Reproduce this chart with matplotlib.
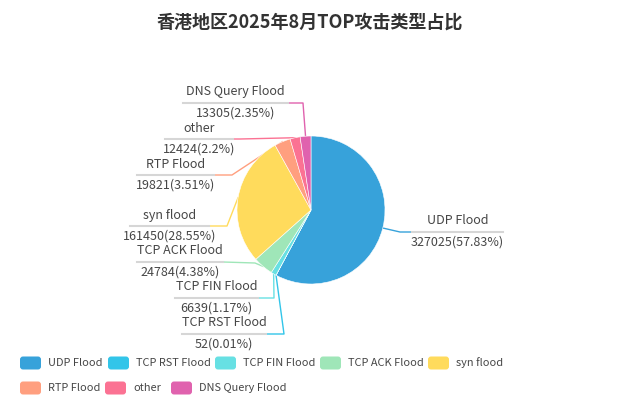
import matplotlib.pyplot as plt
from matplotlib.patches import FancyBboxPatch
import numpy as np

plt.rcParams['font.family'] = ['Noto Sans CJK SC', 'DejaVu Sans']

title = '香港地区2025年8月TOP攻击类型占比'
names = ['UDP Flood', 'TCP RST Flood', 'TCP FIN Flood', 'TCP ACK Flood',
         'syn flood', 'RTP Flood', 'other', 'DNS Query Flood']
values = [327025, 52, 6639, 24784, 161450, 19821, 12424, 13305]
colors = ['#37A2DA', '#32C5E9', '#67E0E3', '#9FE6B8',
          '#FFDB5C', '#ff9f7f', '#fb7293', '#E062AE']

W, H = 620, 401
cx, cy, R = 311, 210, 74

def Y(y):
    return H - y

# label layout in pixels: line x0, x1, line y, elbow (x, y)
label_pos = {
    'UDP Flood':       (412, 503, 232, (400, 232)),
    'TCP RST Flood':   (182, 266, 334, (284, 334)),
    'TCP FIN Flood':   (175, 258, 298, (274, 298)),
    'TCP ACK Flood':   (137, 223, 262, (255, 263)),
    'syn flood':       (130, 209, 226, (227, 226)),
    'RTP Flood':       (137, 214, 175, (232, 175)),
    'other':           (165, 233, 139, (240, 139)),
    'DNS Query Flood': (183, 288, 103, (303, 103)),
}

fig = plt.figure(figsize=(6.2, 4.01), dpi=100)
ax = fig.add_axes([0, 0, 1, 1])

wedges, _ = ax.pie(values, colors=colors, startangle=90, counterclock=False,
                   center=(cx, Y(cy)), radius=R,
                   wedgeprops=dict(linewidth=0.4, edgecolor='white', zorder=3))
ax.set_xlim(0, W)
ax.set_ylim(0, H)
ax.set_aspect('equal')
ax.axis('off')

total = sum(values)
txt = '#464646'
for w, name, v, c in zip(wedges, names, values, colors):
    mid = np.deg2rad((w.theta1 + w.theta2) / 2)
    ex = cx + R * np.cos(mid)
    ey = Y(cy) + R * np.sin(mid)
    x0, x1, ly, (bx, by) = label_pos[name]
    end_x = x1 if x1 < cx else x0
    ax.plot([ex, bx, end_x], [ey, Y(by), Y(ly)], color=c, lw=1, zorder=1)
    ax.plot([x0, x1], [Y(ly), Y(ly)], color='#d6d6d6', lw=1.5, zorder=1)
    p = f"{v / total * 100:.2f}".rstrip('0').rstrip('.')
    xm = (x0 + x1) / 2
    ax.text(xm, Y(ly - 11), name, ha='center', va='center', fontsize=9, color=txt)
    ax.text(xm, Y(ly + 10), f"{v}({p}%)", ha='center', va='center', fontsize=9, color=txt)

ax.text(W / 2, Y(22), title, ha='center', va='center', fontsize=13,
        fontweight='bold', color='#333333')

# legend
leg_x = [20, 108, 215, 320, 428, 20, 105, 171]
leg_y = [363, 363, 363, 363, 363, 388, 388, 388]
for name, c, lx, lyy in zip(names, colors, leg_x, leg_y):
    box = FancyBboxPatch((lx, Y(lyy) - 6.5), 21, 13,
                         boxstyle='round,pad=0,rounding_size=3',
                         facecolor=c, edgecolor='none')
    ax.add_patch(box)
    ax.text(lx + 28, Y(lyy), name, ha='left', va='center', fontsize=7.9, color=txt)

fig.savefig('out.png', dpi=100)
